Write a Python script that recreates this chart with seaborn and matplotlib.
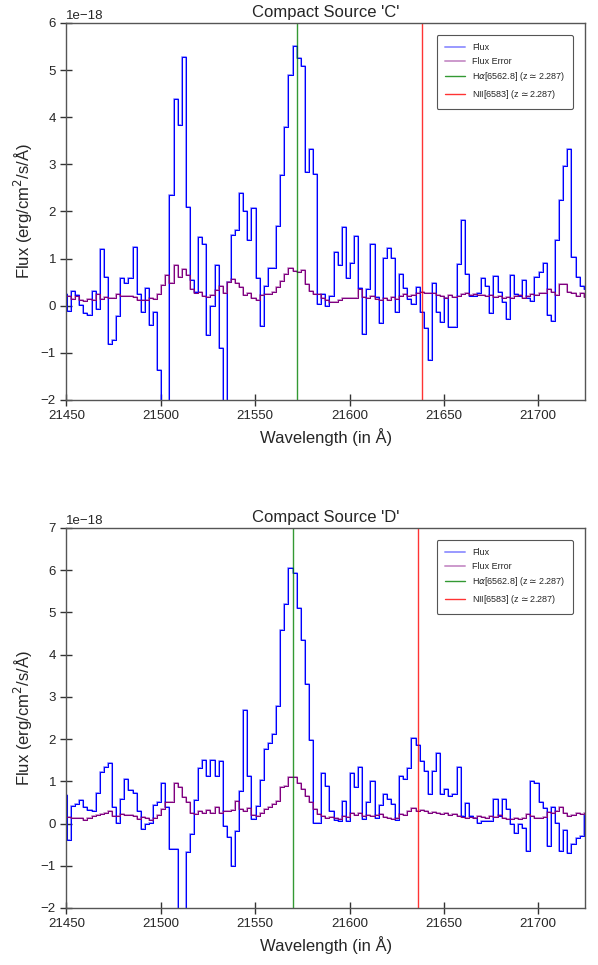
import numpy as np
import pandas as pd
import matplotlib
matplotlib.use("Agg")
import matplotlib.pyplot as plt
import seaborn as sns

# wavelength grid (bin centres, ~2.17 A per pixel)
wave = np.round(21449.2 + 2.173 * np.arange(128), 2)

# source C, flux and error in units of 1e-18 erg/cm2/s/A
top_flux = [0.25, -0.11, 0.31, 0.23, 0.01, -0.15, -0.20, 0.31, -0.06, 1.21, 0.61,
            -0.82, -0.73, -0.21, 0.59, 0.49, 0.59, 1.24, 0.24, -0.14, 0.38,
            -0.41, -0.14, -1.37, -3.0, -2.6, 2.35, 4.38, 3.83, 5.27, 2.10,
            0.54, 0.30, 1.45, 1.32, -0.62, 0.0, 0.86, -0.89, -2.6, 0.51,
            1.51, 1.61, 2.39, 2.00, 1.39, 2.08, 0.58, -0.44, 0.42, 0.81,
            0.81, 1.70, 2.77, 3.79, 4.90, 5.51, 5.25, 5.08, 2.83, 3.33,
            2.79, 0.03, 0.25, -0.01, 0.21, 1.15, 0.86, 1.68, 0.58, 0.91,
            1.49, 0.37, -0.59, 0.35, 1.30, 0.18, -0.37, 1.02, 1.23, 1.02,
            -0.14, 0.68, 0.37, 0.14, 0.03, 0.40, -0.14, -0.48, -1.15, 0.48,
            -0.14, -0.34, 0.16, -0.45, -0.45, 0.88, 1.81, 0.67, 0.21, 0.20,
            0.27, 0.59, 0.42, -0.16, 0.64, 0.30, 0.07, -0.28, 0.65, 0.24,
            0.20, 0.54, 0.16, 0.11, 0.62, 0.71, 0.90, -0.20, -0.33, 1.40,
            2.25, 2.97, 3.33, 1.03, 0.62, 0.42, 0.35]
top_err = [0.21, 0.21, 0.15, 0.21, 0.12, 0.11, 0.14, 0.13, 0.24, 0.14, 0.19,
           0.17, 0.17, 0.24, 0.20, 0.20, 0.21, 0.19, 0.12, 0.12, 0.12,
           0.17, 0.15, 0.25, 0.44, 0.65, 0.49, 0.86, 0.61, 0.79, 0.66,
           0.35, 0.26, 0.30, 0.21, 0.19, 0.23, 0.33, 0.41, 0.28, 0.51,
           0.56, 0.48, 0.39, 0.23, 0.28, 0.16, 0.13, 0.23, 0.25, 0.24,
           0.30, 0.39, 0.53, 0.67, 0.81, 0.74, 0.71, 0.76, 0.46, 0.32,
           0.25, 0.24, 0.16, 0.12, 0.08, 0.08, 0.13, 0.17, 0.16, 0.16,
           0.17, 0.35, 0.18, 0.16, 0.21, 0.14, 0.13, 0.16, 0.13, 0.18,
           0.14, 0.20, 0.24, 0.20, 0.22, 0.26, 0.30, 0.27, 0.26, 0.28,
           0.22, 0.20, 0.16, 0.22, 0.18, 0.20, 0.24, 0.26, 0.22, 0.24,
           0.22, 0.22, 0.20, 0.22, 0.18, 0.20, 0.16, 0.18, 0.16, 0.20,
           0.22, 0.16, 0.20, 0.24, 0.22, 0.28, 0.26, 0.36, 0.30, 0.22,
           0.46, 0.46, 0.30, 0.26, 0.20, 0.26, 0.18]

# source D
bot_flux = [0.67, -0.40, 0.41, 0.46, 0.55, 0.38, 0.32, 0.29, 0.73, 1.22, 1.35,
            1.43, 0.40, 0.02, 0.58, 1.05, 0.79, 0.73, 0.30, -0.13, 0.0,
            0.02, 0.44, 0.52, 0.97, 0.40, -0.61, -0.61, -2.5, -2.5, -0.67,
            -0.25, 0.55, 1.32, 1.51, 1.13, 1.51, 1.13, 1.47, -0.06, -0.33,
            -1.0, -0.17, 0.78, 2.69, 1.13, 0.10, 0.42, 1.03, 1.77, 1.90,
            2.12, 2.78, 4.58, 5.19, 6.05, 5.93, 5.10, 4.34, 3.31, 1.98,
            0.02, 0.02, 1.19, 0.90, 0.29, 0.08, 0.06, 0.54, 0.05, 1.19,
            0.87, 1.35, 0.10, 0.50, 1.00, 0.13, 0.44, 0.71, 0.58, 0.46,
            0.08, 1.13, 1.06, 1.31, 2.03, 1.87, 1.49, 1.25, 0.70, 1.25,
            1.66, 0.70, 0.82, 0.66, 0.71, 1.33, 0.18, 0.49, 0.18, 0.14,
            0.02, 0.05, 0.05, 0.05, 0.59, 0.18, 0.58, 0.34, -0.02, -0.23,
            -0.02, -0.10, -0.65, 1.01, 0.95, 0.50, 0.36, -0.53, 0.40, 0.02,
            -0.65, -0.16, -0.71, -0.49, -0.35, -0.29, 0.19]
bot_err = [0.16, 0.16, 0.14, 0.14, 0.13, 0.08, 0.14, 0.18, 0.21, 0.22, 0.25,
           0.29, 0.18, 0.18, 0.22, 0.19, 0.21, 0.17, 0.10, 0.16, 0.14,
           0.08, 0.13, 0.21, 0.34, 0.52, 0.50, 0.95, 0.86, 0.62, 0.50,
           0.25, 0.22, 0.29, 0.26, 0.32, 0.26, 0.40, 0.26, 0.30, 0.29,
           0.32, 0.54, 0.35, 0.30, 0.36, 0.20, 0.18, 0.26, 0.34, 0.40,
           0.46, 0.54, 0.86, 0.90, 1.09, 1.09, 0.97, 0.82, 0.66, 0.50,
           0.34, 0.22, 0.18, 0.14, 0.16, 0.13, 0.10, 0.18, 0.16, 0.24,
           0.21, 0.24, 0.18, 0.21, 0.18, 0.21, 0.22, 0.16, 0.14, 0.10,
           0.13, 0.22, 0.21, 0.30, 0.36, 0.30, 0.32, 0.30, 0.26, 0.28,
           0.24, 0.22, 0.24, 0.20, 0.22, 0.18, 0.16, 0.14, 0.16, 0.14,
           0.18, 0.15, 0.14, 0.18, 0.16, 0.20, 0.12, 0.10, 0.10, 0.12,
           0.10, 0.14, 0.22, 0.18, 0.14, 0.12, 0.15, 0.28, 0.24, 0.30,
           0.38, 0.24, 0.18, 0.20, 0.24, 0.22, 0.24]

scale = 1e-18
z = 2.287
lines_c = (21572.0, 21638.4)
lines_d = (21569.9, 21636.5)

sns.set_style("ticks")
plt.rcParams['font.family'] = ['Liberation Sans', 'DejaVu Sans']


def panel(ax, flux, err, lam, title, ymax):
    df = pd.DataFrame({'wave': wave, 'flux': np.array(flux) * scale,
                       'err': np.array(err) * scale})
    sns.lineplot(data=df, x='wave', y='flux', ax=ax, color='blue', lw=1.4,
                 alpha=0.4, drawstyle='steps-mid', estimator=None, label='Flux')
    sns.lineplot(data=df, x='wave', y='err', ax=ax, color='purple', lw=1.4,
                 alpha=0.4, drawstyle='steps-mid', estimator=None, label='Flux Error')
    sns.lineplot(data=df, x='wave', y='flux', ax=ax, color='blue', lw=0.75,
                 drawstyle='steps-mid', estimator=None)
    sns.lineplot(data=df, x='wave', y='err', ax=ax, color='purple', lw=0.75,
                 drawstyle='steps-mid', estimator=None)
    ax.axvline(lam[0], color='green', lw=1.0, alpha=0.8,
               label='H$\\alpha$[6562.8] (z$\\simeq$%.3f)' % z)
    ax.axvline(lam[1], color='red', lw=1.0, alpha=0.8,
               label='NII[6583] (z$\\simeq$%.3f)' % z)
    ax.set_xlim(21450, 21725)
    ax.set_ylim(-2 * scale, ymax * scale)
    ax.set_xticks(np.arange(21450, 21701, 50))
    ax.set_yticks(np.arange(-2, ymax + 1) * scale)
    ax.set_title(title, fontsize=12, pad=4)
    ax.set_xlabel('Wavelength (in Å)', fontsize=12)
    ax.set_ylabel('Flux (erg/cm$^2$/s/Å)', fontsize=12)
    ax.tick_params(direction='inout', length=8, width=1, labelsize=9.5, color='#333333')
    ax.yaxis.get_offset_text().set_fontsize(9.5)
    for s in ax.spines.values():
        s.set_color('#555555')
        s.set_linewidth(1)
    leg = ax.legend(loc='upper right', bbox_to_anchor=(0.976, 0.968), borderaxespad=0,
                    fontsize=6.5, frameon=True, fancybox=True, edgecolor='#555555',
                    framealpha=1, borderpad=0.9, labelspacing=0.5, handlelength=2.2)
    leg.get_frame().set_linewidth(0.8)


fig = plt.figure(figsize=(5.98, 9.65), dpi=100)
ax1 = fig.add_axes([0.111, 0.5855, 0.868, 0.3907])
ax2 = fig.add_axes([0.111, 0.0591, 0.868, 0.3938])
panel(ax1, top_flux, top_err, lines_c, "Compact Source 'C'", 6)
panel(ax2, bot_flux, bot_err, lines_d, "Compact Source 'D'", 7)

fig.savefig('out.png', dpi=100)
